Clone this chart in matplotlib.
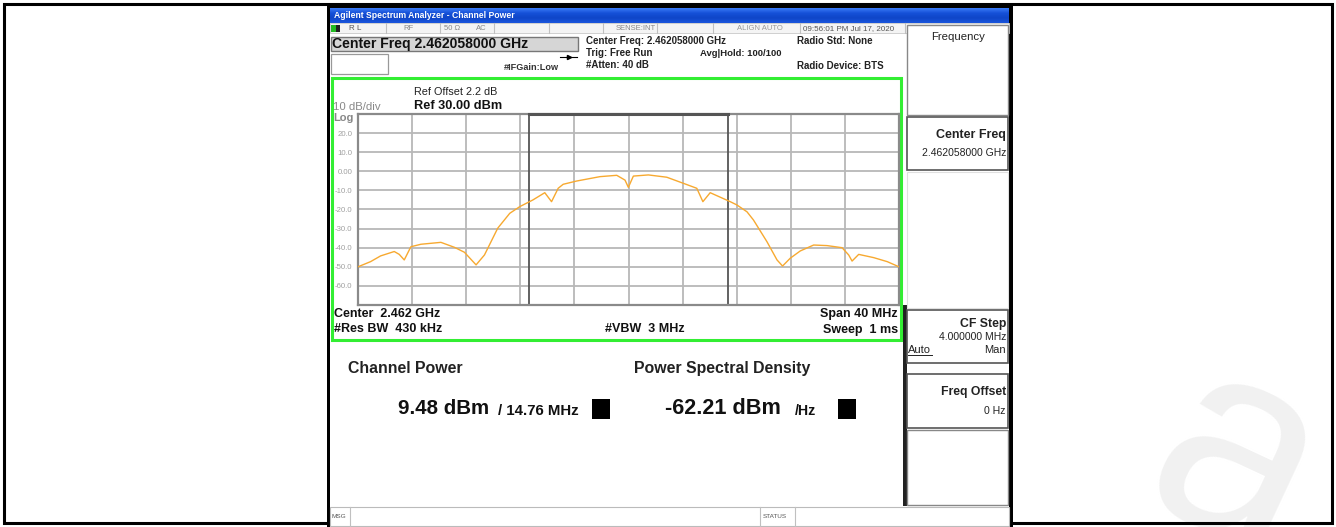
import numpy as np
import matplotlib
matplotlib.use("Agg")
import matplotlib.pyplot as plt
from matplotlib.patches import Rectangle

plt.rcParams['font.family'] = ['Liberation Sans', 'DejaVu Sans']

# ---------------- data ----------------
center_ghz = 2.462
span_mhz = 40
ref_level = 30.0
db_per_div = 10
channel_bw_mhz = 14.76

freq_offset_mhz = [-20.0, -19.07, -18.33, -17.32, -16.95, -16.58, -16.09, -15.35, -13.87,
                   -12.87, -12.13, -11.27, -10.65, -9.67, -8.78, -8.04, -7.07, -6.19,
                   -5.69, -5.20, -4.83, -3.84, -2.11, -0.87, -0.26, -0.01, 0.36, 1.47,
                   2.83, 4.06, 5.05, 5.50, 6.04, 7.52, 8.01, 8.76, 9.24, 10.24, 10.98,
                   11.39, 11.96, 12.70, 13.69, 14.68, 15.79, 16.28, 16.53, 17.02, 18.13,
                   19.13, 20.0]
level_dbm = [-50.0, -47.3, -44.3, -42.0, -43.5, -46.4, -39.5, -38.2, -37.2,
             -39.8, -42.4, -49.0, -43.8, -29.8, -22.0, -18.5, -15.0, -11.2,
             -15.9, -8.9, -6.8, -5.1, -2.8, -2.1, -4.6, -8.4, -2.5, -1.9,
             -3.1, -6.3, -8.9, -15.9, -11.2, -15.9, -17.6, -21.2, -25.5, -36.9, -46.4,
             -49.6, -45.5, -41.7, -38.6, -38.9, -40.0, -43.8, -47.0, -43.5, -45.2,
             -47.3, -50.0]

y_tick_values = [30, 20, 10, 0, -10, -20, -30, -40, -50, -60, -70]
y_tick_labels = ['', '20.0', '10.0', '0.00', '-10.0', '-20.0', '-30.0', '-40.0', '-50.0', '-60.0', '']
x_tick_values = list(range(-20, 21, 4))

channel_power = "9.48 dBm"
channel_width_text = "/ 14.76 MHz"
psd_value = "-62.21 dBm"
psd_unit = "/Hz"

# ---------------- figure ----------------
W, H = 1336, 527
fig = plt.figure(figsize=(W / 100, H / 100), dpi=100)
bg = fig.add_axes([0, 0, 1, 1])
bg.set_xlim(0, W)
bg.set_ylim(H, 0)
bg.axis('off')


def rect(x0, y0, x1, y1, fc='none', ec='none', lw=1.0, z=1):
    bg.add_patch(Rectangle((x0, y0), x1 - x0, y1 - y0, facecolor=fc, edgecolor=ec, lw=lw, zorder=z))


def txt(x, y, s, size=7, weight='normal', color='black', ha='left', va='center', **kw):
    bg.text(x, y, s, fontsize=size, fontweight=weight, color=color, ha=ha, va=va, **kw)


# watermark
bg.text(1235, 468, 'a', fontsize=200, color='#f1f1f1', ha='center', va='center',
        rotation=-25, zorder=0.5)

# outer page frame
rect(4, 4, 1332, 523, ec='black', lw=2.2, z=1)

# screenshot window
rect(328, 5, 1012, 527, fc='white', ec='none', z=1)
rect(327, 4, 330, 527, fc='black', z=2)
rect(1009, 4, 1013, 527, fc='black', z=2)
rect(327, 4, 1013, 8, fc='black', z=2)

# title bar gradient
grad = np.linspace(0, 1, 32).reshape(-1, 1)
cmap = matplotlib.colors.LinearSegmentedColormap.from_list('xp', ['#3a7af5', '#1550d8', '#0f46c8', '#1a55dd'])
bg.imshow(grad, extent=(330, 1009, 23, 8), cmap=cmap, aspect='auto', zorder=2)
txt(334, 15.5, 'Agilent Spectrum Analyzer - Channel Power', size=6.2, color='white', weight='bold')

# status row
rect(330, 23, 1009, 33, fc='#f4f4f4', ec='#c8c8c8', lw=0.6, z=2)
for xd in [386, 440, 494, 549, 603, 657, 713, 800, 905]:
    bg.plot([xd, xd], [23, 33], color='#c0c0c0', lw=0.8, zorder=3)
rect(331, 24.5, 336, 31.5, fc='#22bb22', z=3)
rect(336, 24.5, 340, 31.5, fc='#222222', z=3)
txt(349, 28, 'R L', size=5.8, color='#555555')
txt(403, 28.5, 'RF', size=5.5, color='#888888')
txt(444, 28.5, '50 Ω', size=5.5, color='#888888')
txt(476, 28.5, 'AC', size=5.5, color='#888888')
txt(616, 28.5, 'SENSE:INT', size=5.5, color='#888888')
txt(737, 28.5, 'ALIGN AUTO', size=5.5, color='#999999')
txt(803, 28.5, '09:56:01 PM Jul 17, 2020', size=5.8, color='#555555')

# header
rect(331, 37, 578, 51, fc='#d6d6d6', ec='#777777', lw=1.0, z=2)
txt(332, 44, 'Center Freq 2.462058000 GHz', size=10.1, weight='bold', color='#111111')
rect(331, 54, 388, 74, fc='white', ec='#999999', lw=0.9, z=2)
bg.plot([560, 577], [56.5, 56.5], color='black', lw=0.8, zorder=3)
bg.plot([569], [56.5], marker='>', color='black', ms=3, zorder=3)
txt(504, 67, '#IFGain:Low', size=6.6, weight='bold', color='#333333')
txt(586, 41, 'Center Freq: 2.462058000 GHz', size=7, weight='bold', color='#222222')
txt(586, 53.5, 'Trig: Free Run', size=7, weight='bold', color='#222222')
txt(586, 65, '#Atten: 40 dB', size=7, weight='bold', color='#222222')
txt(700, 53.5, 'Avg|Hold: 100/100', size=6.8, weight='bold', color='#222222')
txt(797, 41.5, 'Radio Std: None', size=7, weight='bold', color='#222222')
txt(797, 66, 'Radio Device: BTS', size=7, weight='bold', color='#222222')

# green frame
rect(331.5, 77.5, 900.5, 339.5, ec='#33ee33', lw=2.2, z=4)

# text in measurement frame
txt(414, 92, 'Ref Offset 2.2 dB', size=7.8, color='#222222')
txt(414, 106, 'Ref 30.00 dBm', size=9.2, weight='bold', color='#111111')
txt(333, 107, '10 dB/div', size=8.2, color='#888888')
txt(333, 118, 'Log', size=8, weight='bold', color='#888888')
txt(334, 314, 'Center  2.462 GHz', size=9, weight='bold', color='#111111')
txt(334, 329.5, '#Res BW  430 kHz', size=9, weight='bold', color='#111111')
txt(605, 329.5, '#VBW  3 MHz', size=9, weight='bold', color='#111111')
txt(898, 314, 'Span 40 MHz', size=9, weight='bold', color='#111111', ha='right')
txt(898, 329.5, 'Sweep  1 ms', size=9, weight='bold', color='#111111', ha='right')

# measurement results
txt(348, 368.5, 'Channel Power', size=11.4, weight='bold', color='#222222')
txt(634, 368.5, 'Power Spectral Density', size=11.4, weight='bold', color='#222222')
txt(398, 409, channel_power, size=14.8, weight='bold', color='#111111')
txt(498, 411, channel_width_text, size=10.8, weight='bold', color='#111111')
rect(592, 399, 610, 419, fc='black', z=3)
txt(665, 409, psd_value, size=15.6, weight='bold', color='#111111')
txt(795, 411, psd_unit, size=10.2, weight='bold', color='#111111')
rect(838, 399, 856, 419, fc='black', z=3)

# softkey panel
rect(903, 305, 907, 506, fc='#222222', z=2)
rect(907, 25, 1008, 115, fc='white', ec='#888888', lw=1.0, z=2)
txt(958, 37.5, 'Frequency', size=8.2, color='#222222', ha='center')
rect(907, 117, 1008, 170, fc='white', ec='#555555', lw=1.2, z=2)
txt(1006, 135, 'Center Freq', size=9, weight='bold', color='#222222', ha='right')
txt(1006, 153, '2.462058000 GHz', size=7.5, color='#222222', ha='right')
rect(907, 172, 1008, 308, fc='white', ec='#e0e0e0', lw=0.8, z=2)
rect(907, 310, 1008, 363, fc='white', ec='#555555', lw=1.2, z=2)
txt(1006, 324, 'CF Step', size=8.8, weight='bold', color='#222222', ha='right')
txt(1006, 337.5, '4.000000 MHz', size=7.5, color='#222222', ha='right')
txt(908, 350, 'Auto', size=8, color='#222222')
bg.plot([908, 932], [355, 355], color='#222222', lw=0.7, zorder=3)
txt(1006, 350, 'Man', size=8, color='#222222', ha='right')
rect(907, 374, 1008, 428, fc='white', ec='#555555', lw=1.2, z=2)
txt(1006, 392.5, 'Freq Offset', size=8.8, weight='bold', color='#222222', ha='right')
txt(1006, 411, '0 Hz', size=7.6, color='#222222', ha='right')
rect(907, 430, 1008, 505, fc='white', ec='#888888', lw=1.0, z=2)

# bottom message bar
rect(330, 507, 1009, 526, fc='white', ec='#bbbbbb', lw=0.8, z=2)
bg.plot([350, 350], [507, 526], color='#c0c0c0', lw=0.8, zorder=3)
bg.plot([760, 760], [507, 526], color='#c0c0c0', lw=0.8, zorder=3)
bg.plot([795, 795], [507, 526], color='#c0c0c0', lw=0.8, zorder=3)
txt(332, 516.5, 'MSG', size=4.6, color='#555555')
txt(763, 516.5, 'STATUS', size=4.6, color='#555555')

# ---------------- spectrum plot ----------------
x0, x1, y0, y1 = 358, 899, 114, 305
ax = fig.add_axes([x0 / W, (H - y1) / H, (x1 - x0) / W, (y1 - y0) / H])
ax.set_zorder(5)
ax.set_xlim(-span_mhz / 2, span_mhz / 2)
ax.set_ylim(ref_level - 10 * db_per_div, ref_level)
ax.set_xticks(x_tick_values)
ax.set_xticklabels([])
ax.set_yticks(y_tick_values)
ax.set_yticklabels(y_tick_labels, fontsize=5.6, color='#a0a0a0')
ax.tick_params(length=0, pad=4)
ax.grid(True, color='#b8b8b8', lw=1.3)
ax.set_axisbelow(True)
for s in ax.spines.values():
    s.set_color('#8a8a8a')
    s.set_linewidth(1.6)

half = channel_bw_mhz / 2
for xv in (-half, half):
    ax.axvline(xv, color='#555555', lw=1.3, zorder=2)
ax.plot([-half, half], [ref_level, ref_level], color='#555555', lw=2.2, clip_on=False, zorder=3)

ax.plot(freq_offset_mhz, level_dbm, color='#f7a930', lw=1.0, zorder=4)

fig.savefig('out.png', dpi=100)
